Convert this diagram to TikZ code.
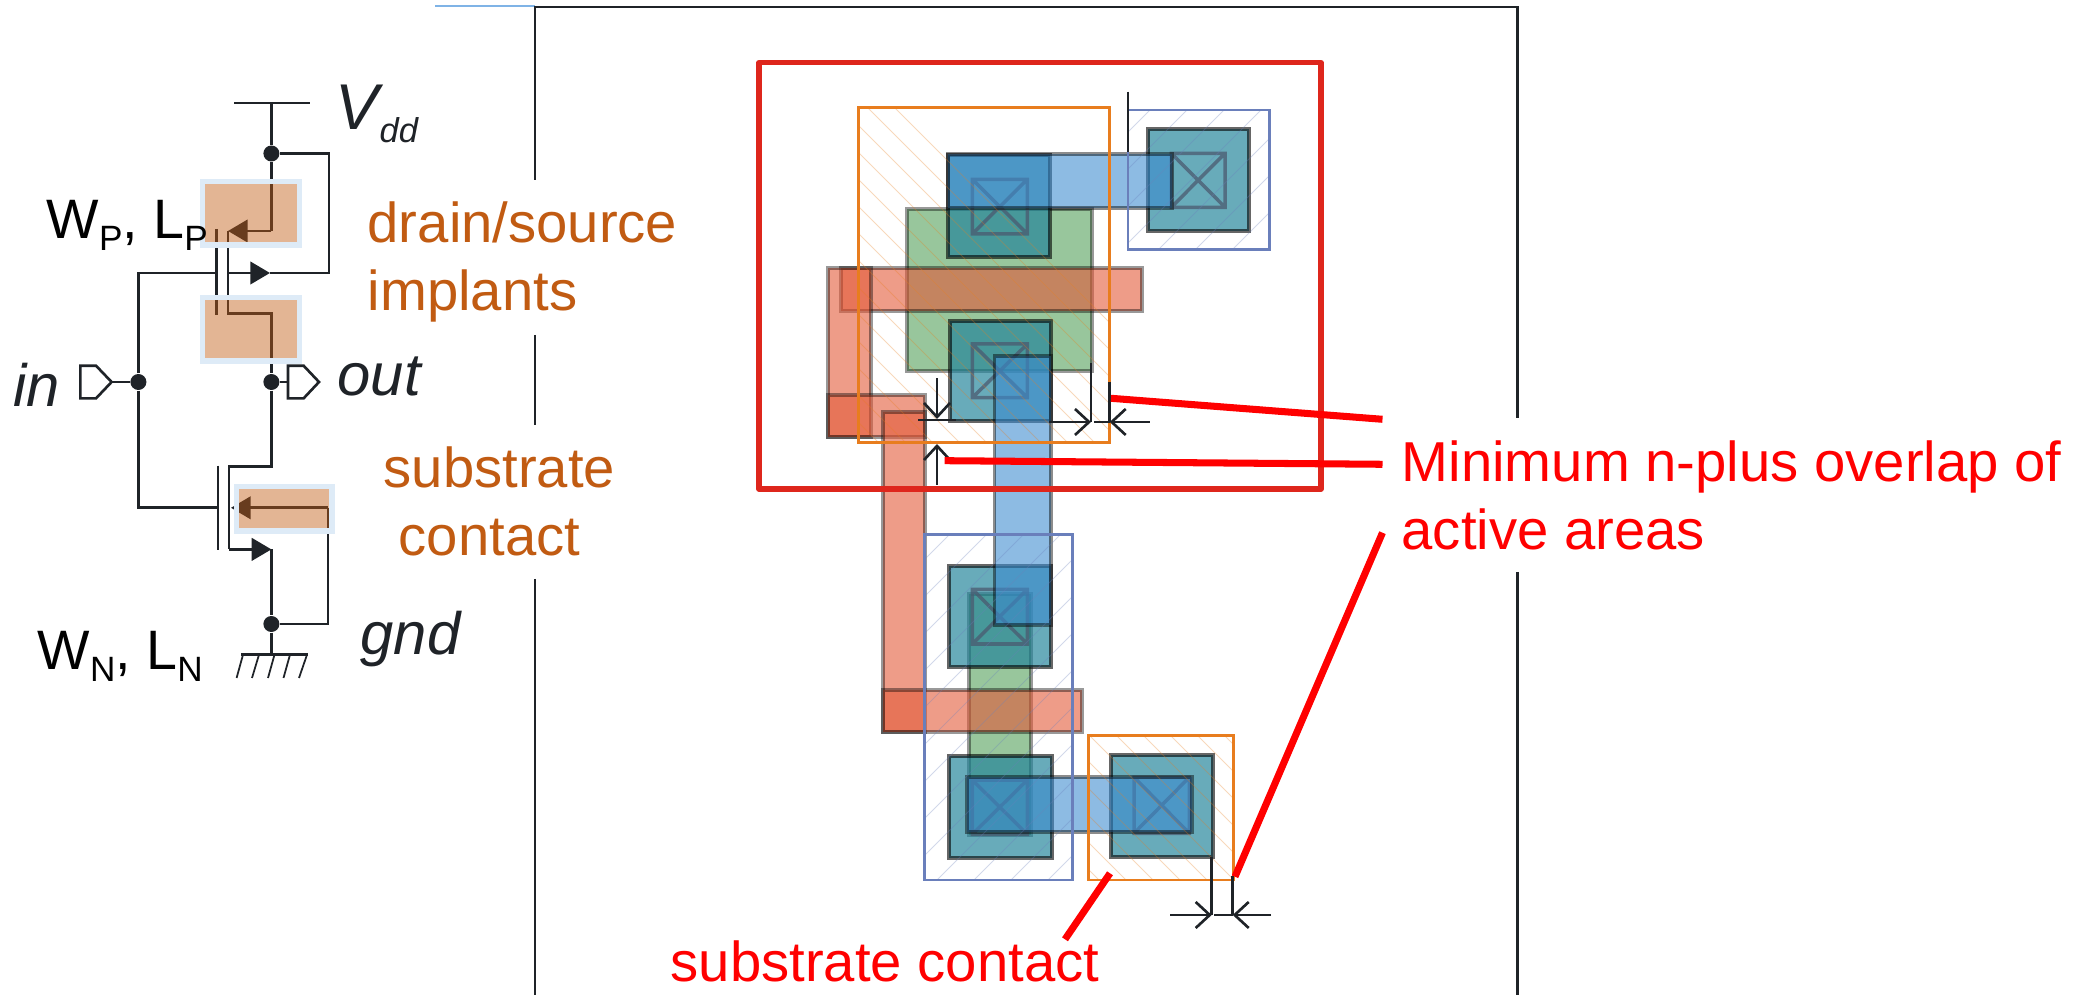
\documentclass[tikz,border=0pt]{standalone}
\usepackage{fontspec}
\setmainfont{Liberation Sans}
\usetikzlibrary{arrows.meta}

\definecolor{ink}{HTML}{1F2328}
\definecolor{implant}{HTML}{C15B12}
\definecolor{implantedge}{HTML}{DEEBF7}
\definecolor{polycol}{HTML}{E35A39}
\definecolor{activecol}{HTML}{53A05A}
\definecolor{diffcol}{HTML}{21839A}
\definecolor{metalcol}{HTML}{3A8ACF}
\definecolor{ncol}{HTML}{E87D1E}
\definecolor{pcol}{HTML}{6A7FBB}
\definecolor{cutcol}{HTML}{4A5A70}

\newcommand{\lowsub}[1]{\raisebox{-3.4pt}{\fontsize{10}{10}\selectfont #1}}

\tikzset{
  wire/.style={draw=ink,line width=.75pt},
  tipwire/.style={wire,-{Triangle[length=5.6pt,width=6.4pt]}},
  implantbox/.style={draw=implantedge,line width=1.5pt,fill=implant,fill opacity=.45},
  poly/.style={fill=polycol,fill opacity=.6,draw=black,draw opacity=.4,line width=1.1pt},
  active/.style={fill=activecol,fill opacity=.6,draw=black,draw opacity=.4,line width=1.1pt},
  diff/.style={fill=diffcol,fill opacity=.68,draw=black,draw opacity=.6,line width=1.2pt},
  metal/.style={fill=metalcol,fill opacity=.58,draw=black,draw opacity=.45,line width=1.1pt},
  cut/.style={draw=cutcol,draw opacity=.75,line width=1pt},
  dim/.style={draw=ink,line width=.75pt},
  dimarrow/.style={dim,-{Straight Barb[length=4pt,width=7.4pt]}},
  leader/.style={draw=red,line width=2pt},
}

\begin{document}
\begin{tikzpicture}[x=.01cm,y=-.01cm]
      \useasboundingbox (0,0) rectangle (2084,995);

      % frame behind the layout
      \draw[line width=.4pt,draw={rgb,255:red,127;green,179;blue,230}] (435,6) -- (535,6);
      \begin{scope}[line width=.75pt,draw=ink]
        \draw (535,180) -- (535,7) -- (1517.5,7) -- (1517.5,418);
        \draw (535,335) -- (535,425);
        \draw (535,579) -- (535,995);
        \draw (1517.5,572) -- (1517.5,995);
      \end{scope}

      % schematic
      \begin{scope}[every node/.style={circle,fill=ink,inner sep=0pt,minimum size=.16cm}]
        \node (vddj) at (271.4,153.5) {};
        \node (inj)  at (138.4,382) {};
        \node (outj) at (271.4,382) {};
        \node (gndj) at (271.4,624) {};
      \end{scope}

      \coordinate (vddl) at (234.4,102.9);
      \coordinate (vddr) at (310,102.9);
      \coordinate (vddm) at (271.4,102.9);
      \coordinate (ps)   at (271.4,231);
      \coordinate (pst)  at (228,231);
      \coordinate (pdt)  at (228,313.5);
      \coordinate (pd)   at (271.4,313.5);
      \coordinate (pgt)  at (216.5,229);
      \coordinate (pgb)  at (216.5,314.7);
      \coordinate (pgw)  at (216.5,273);
      \coordinate (inup) at (138.4,273);
      \coordinate (pb)   at (228,273);
      \coordinate (pbm)  at (270,273);
      \coordinate (pbr)  at (329,273);
      \coordinate (pbt)  at (329,153.5);
      \coordinate (nd)   at (271.4,466.5);
      \coordinate (ndt)  at (229,466.5);
      \coordinate (nst)  at (229,549.4);
      \coordinate (ns)   at (271.4,549.4);
      \coordinate (ngt)  at (218,465.7);
      \coordinate (ngb)  at (218,550);
      \coordinate (ngw)  at (218,507.8);
      \coordinate (indn) at (138.4,507.8);
      \coordinate (nbt)  at (231,507.8);
      \coordinate (nbr)  at (328,507.8);
      \coordinate (nbb)  at (328,624);
      \coordinate (gndb) at (271.4,654.7);
      \coordinate (gndl) at (241,654.7);
      \coordinate (gndr) at (308,654.7);
      \coordinate (intip) at (111.6,382);
      \coordinate (outin) at (288,382);

      \path[wire] (vddl) -- (vddr);
      \path[wire] (vddm) -- (vddj);
      \path[tipwire] (ps) -- (pst);
      \path[wire] (vddj) -- (ps);
      \path[wire] (pst) -- (pdt) -- (pd) -- (outj);
      \path[wire] (pgt) -- (pgb);
      \path[wire] (inj) -- (inup) -- (pgw);
      \path[tipwire] (pb) -- (pbm);
      \path[wire] (pbm) -- (pbr) -- (pbt) -- (vddj);
      \path[wire] (intip) -- (inj);
      \path[wire] (outj) -- (outin);
      \path[wire] (outj) -- (nd) -- (ndt) -- (nst);
      \path[tipwire] (nst) -- (ns);
      \path[wire] (ns) -- (gndj) -- (gndb);
      \path[wire] (ngt) -- (ngb);
      \path[wire] (inj) -- (indn) -- (ngw);
      \path[tipwire] (nbr) -- (nbt);
      \path[wire] (nbr) -- (nbb) -- (gndj);
      \path[wire] (gndl) -- (gndr);
      \foreach \xa/\xb in {243/236.6,259/252,274.5/268,290/283.5,307/299}
        \draw[draw=ink,line width=.5pt] (\xa,654.7) -- (\xb,678);
      \draw[wire,fill=white] (80.4,365.7) -- (96,365.7) -- (intip) -- (96,398.4) -- (80.4,398.4) -- cycle;
      \draw[wire,fill=white] (288,365.7) -- (303.6,365.7) -- (319,382) -- (303.6,398.4) -- (288,398.4) -- cycle;

      \path[implantbox] (202.7,181.4) rectangle (299.2,245);
      \path[implantbox] (202.7,297.4) rectangle (299.2,361);
      \path[implantbox] (236.2,486.6) rectangle (332,531);

      % layout
      \path[active] (906.9,208.7) rectangle (1092,371);
      \path[active] (968.7,594.3) rectangle (1031.3,835);

      \path[poly] (841,268.3) rectangle (1141.8,310.7);
      \path[poly] (828.4,268.3) rectangle (870.9,437.3);
      \path[poly] (828.4,395.3) rectangle (925.2,437.3);
      \path[poly] (882.7,412.3) rectangle (925.2,731.7);
      \path[poly] (882.7,690) rectangle (1082.3,732.3);

      \path[diff] (1148,129.3) rectangle (1249,231);
      \path[diff] (947.8,155) rectangle (1050,256.7);
      \path[diff] (949.7,320.7) rectangle (1051,420.7);
      \path[diff] (948.7,566) rectangle (1050.7,667.3);
      \path[diff] (948.7,756) rectangle (1051.7,858.3);
      \path[diff] (1110.7,755) rectangle (1212.7,856.7);

      \foreach \xa/\ya/\xb/\yb in {1171.3/153.3/1225/207.3,972.3/179.3/1027.4/234,972.3/344/1027.4/397.7,
          972.3/589.3/1027.3/644,972.3/780/1027.3/834.3,1134/777.3/1189.3/833.3}
        \draw[cut] (\xa,\ya) rectangle (\xb,\yb) (\xa,\ya) -- (\xb,\yb) (\xa,\yb) -- (\xb,\ya);

      \path[metal] (947.8,154.3) rectangle (1171.7,208.3);
      \path[metal] (994.5,356) rectangle (1051,625);
      \path[metal] (966.7,776.7) rectangle (1191.7,831.7);

      % implant hatching
      \begin{scope}
        \clip (858.6,107.3) rectangle (1109.7,442.7);
        \foreach \d in {300,327,...,900}
          \draw[ncol,opacity=.3,line width=.22pt] (\d,107) -- +(340,340);
      \end{scope}
      \begin{scope}
        \clip (1088.7,735.3) rectangle (1233.3,880);
        \foreach \d in {900,927,...,1240}
          \draw[ncol,opacity=.3,line width=.22pt] (\d,735) -- +(150,150);
      \end{scope}
      \begin{scope}
        \clip (1128,110) rectangle (1269.3,249.3);
        \foreach \d in {1150,1187,...,1460}
          \draw[pcol,opacity=.3,line width=.22pt] (\d,110) -- +(-145,145);
      \end{scope}
      \begin{scope}
        \clip (924.3,534.3) rectangle (1072.7,880);
        \foreach \d in {950,987,...,1460}
          \draw[pcol,opacity=.3,line width=.22pt] (\d,534) -- +(-350,350);
      \end{scope}

      \draw[ncol,line width=.7pt] (858.6,107.3) rectangle (1109.7,442.7);
      \draw[ncol,line width=.7pt] (1088.7,735.3) rectangle (1233.3,880);
      \draw[pcol,line width=.7pt] (1128,110) rectangle (1269.3,249.3);
      \draw[pcol,line width=.7pt] (924.3,534.3) rectangle (1072.7,880);

      \draw[draw={rgb,255:red,222;green,38;blue,28},line width=1.6pt,line join=round] (759,62.7) rectangle (1321,489);

      % dimension marks
      \coordinate (ticka) at (1128,91.7);
      \coordinate (tickb) at (1128,151.7);
      \coordinate (wa)  at (1091,363);
      \coordinate (wb)  at (1091,422);
      \coordinate (wc)  at (1109.7,382);
      \coordinate (wd)  at (1109.7,422);
      \coordinate (we)  at (1049,422);
      \coordinate (wf)  at (1149.5,422);
      \coordinate (wg)  at (1094,422);
      \coordinate (ha)  at (937,378.3);
      \coordinate (hb)  at (937,419);
      \coordinate (hc)  at (918,420);
      \coordinate (hd)  at (955.5,420);
      \coordinate (he)  at (937,485);
      \coordinate (hf)  at (937,444);
      \coordinate (sa)  at (1211.7,856.7);
      \coordinate (sb)  at (1211.7,915);
      \coordinate (sc)  at (1232.7,876);
      \coordinate (sd)  at (1232.7,915);
      \coordinate (se)  at (1170,915);
      \coordinate (sf)  at (1271,915);
      \coordinate (sg)  at (1214,915);

      \path[dim] (ticka) -- (tickb);
      \path[dim] (wa) -- (wb);
      \path[dim] (wc) -- (wd);
      \path[dim] (wg) -- (wd);
      \path[dimarrow] (we) -- (wb);
      \path[dimarrow] (wf) -- (wd);
      \path[dim] (hc) -- (hd);
      \path[dimarrow] (ha) -- (hb);
      \path[dimarrow] (he) -- (hf);
      \path[dim] (sa) -- (sb);
      \path[dim] (sc) -- (sd);
      \path[dim] (sg) -- (sd);
      \path[dimarrow] (se) -- (sb);
      \path[dimarrow] (sf) -- (sd);

      % labels
      \begin{scope}[every node/.style={anchor=base west,inner sep=0pt,text=red,font=\fontsize{16}{18}\selectfont}]
        \node (minimum) at (1401,481.7) {Minimum n-plus overlap of};
        \node (areas)   at (1401,549.3) {active areas};
        \node (subred)  at (670,981.7) {substrate contact};
      \end{scope}

      \coordinate (la) at (1111,398.3);
      \coordinate (lb) at (1382.5,419.3);
      \coordinate (lc) at (944.7,460.7);
      \coordinate (ld) at (1382.5,464.3);
      \coordinate (le) at (1235,876.7);
      \coordinate (lf) at (1382.5,532.7);
      \coordinate (lg) at (1110,873.3);
      \coordinate (lh) at (1065,939.3);

      \path[leader] (la) -- (lb);
      \path[leader] (lc) -- (ld);
      \path[leader] (le) -- (lf);
      \path[leader] (lg) -- (lh);

      \begin{scope}[every node/.style={anchor=base west,inner sep=0pt,text=implant,font=\fontsize{16}{18}\selectfont}]
        \node (drain)    at (367,243) {drain/source};
        \node (implants) at (367,310.6) {implants};
        \node (substr)   at (383,488) {substrate};
        \node (contact)  at (398,555.5) {contact};
      \end{scope}

      \begin{scope}[every node/.style={anchor=base west,inner sep=0pt,font=\fontsize{15.8}{18}\selectfont}]
        \node (wp) at (46,239) {W\lowsub{P}, L\lowsub{P}};
        \node (wn) at (37,670) {W\lowsub{N}, L\lowsub{N}};
      \end{scope}

      \begin{scope}[every node/.style={anchor=base west,inner sep=0pt,text=ink,font=\fontsize{17}{18}\selectfont\itshape}]
        \node[font=\fontsize{18.4}{20}\selectfont\itshape] (vdd) at (335,130) {V};
        \node[font=\fontsize{9.8}{12}\selectfont\itshape] (dd) at (379,143) {dd};
        \node (in)  at (13,406.5) {in};
        \node (out) at (337,396) {out};
        \node (gnd) at (360,655) {gnd};
      \end{scope}

    \end{tikzpicture}
\end{document}
